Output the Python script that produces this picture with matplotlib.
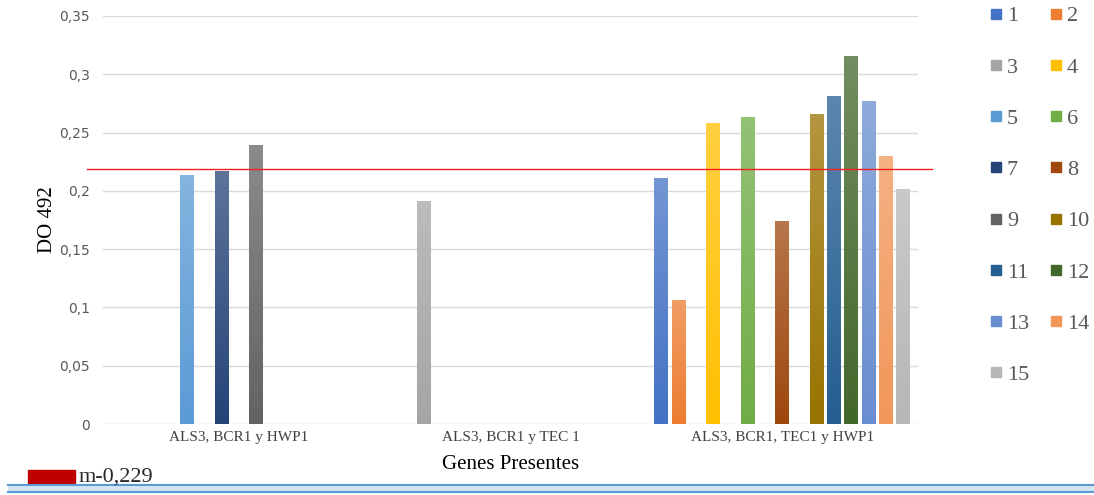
import numpy as np
import matplotlib
matplotlib.use("Agg")
import matplotlib.pyplot as plt
from matplotlib.colors import LinearSegmentedColormap, to_rgb
from matplotlib.lines import Line2D
from matplotlib.patches import Rectangle

# data (None = no bar in that group)
categories = ["ALS3, BCR1 y HWP1", "ALS3, BCR1 y TEC 1", "ALS3, BCR1, TEC1 y HWP1"]
series_names = [str(i) for i in range(1, 16)]
values = {
    "1": [None, None, 0.211],
    "2": [None, None, 0.106],
    "3": [None, 0.191, None],
    "4": [None, None, 0.258],
    "5": [0.214, None, None],
    "6": [None, None, 0.263],
    "7": [0.217, None, None],
    "8": [None, None, 0.174],
    "9": [0.239, None, None],
    "10": [None, None, 0.266],
    "11": [None, None, 0.281],
    "12": [None, None, 0.316],
    "13": [None, None, 0.277],
    "14": [None, None, 0.230],
    "15": [None, None, 0.202],
}
threshold = 0.219
threshold_label = "m-0,229"
yticks = [0, 0.05, 0.1, 0.15, 0.2, 0.25, 0.3, 0.35]

colors = ["#4472C4", "#ED7D31", "#A5A5A5", "#FFC000", "#5B9BD5", "#70AD47",
          "#264478", "#9E480E", "#636363", "#997300", "#255E91", "#43682B",
          "#698ED0", "#F1975A", "#B7B7B7"]

serif = "Liberation Serif"
fig = plt.figure(figsize=(10.94, 4.95), dpi=100)
ax = fig.add_axes([0.0942, 0.1434, 0.745, 0.8243])

slot = 0.0636
bw = 0.0515
x = np.arange(len(categories))


def lighter(c, f):
    r = np.array(to_rgb(c))
    return tuple(r + (1 - r) * f)


for i, name in enumerate(series_names):
    vals = [np.nan if v is None else v for v in values[name]]
    bars = ax.bar(x + (i - 7) * slot, vals, bw, color=colors[i], zorder=2)
    cmap = LinearSegmentedColormap.from_list("g", [colors[i], lighter(colors[i], 0.25)])
    for b in bars:
        h = b.get_height()
        if not np.isfinite(h) or h == 0:
            continue
        grad = np.linspace(1, 0, 64).reshape(-1, 1)
        im = ax.imshow(grad, cmap=cmap, aspect="auto", zorder=3,
                       extent=[b.get_x(), b.get_x() + b.get_width(), 0, h])
        im.set_clip_path(b)

ax.set_xlim(-0.5, 2.5)
ax.set_ylim(0, 0.35)
ax.set_yticks(yticks)
ax.set_yticklabels([("%g" % t).replace(".", ",") for t in yticks],
                   fontsize=10, color="#595959")
ax.set_xticks(x)
ax.set_xticklabels(categories, fontsize=11, family=serif, color="#404040")
ax.tick_params(length=0, pad=9.5)
ax.tick_params(axis="x", pad=5)
ax.grid(axis="y", color="#D9D9D9", lw=1, zorder=0)
for s in ax.spines.values():
    s.set_visible(False)

ax.axhline(threshold, xmin=-0.02, xmax=1.017, color="#F02020", lw=1,
           clip_on=False, zorder=4)

ax.set_xlabel("Genes Presentes", family=serif, fontsize=15, labelpad=8)
ax.set_ylabel("DO 492", family=serif, fontsize=15)
ax.yaxis.set_label_coords(-0.056, 0.5)

order = list(range(0, 15, 2)) + list(range(1, 15, 2))
handles = [Line2D([], [], marker="s", ls="", color=colors[k], markersize=7)
           for k in order]
leg = fig.legend(handles, [series_names[k] for k in order], ncol=2,
                 loc="upper left", bbox_to_anchor=(0.904, 0.988), frameon=False,
                 prop={"family": serif, "size": 16}, labelspacing=1.38,
                 handlelength=0.6, handletextpad=0.2, columnspacing=0.9,
                 borderpad=0, borderaxespad=0)
for t in leg.get_texts():
    t.set_color("#595959")

# threshold legend and bottom band
fig.patches.append(Rectangle((28 / 1094, 1 - 484 / 495), 47 / 1094, 14 / 495,
                             transform=fig.transFigure, color="#C00000"))
fig.text(79 / 1094, 1 - 477 / 495, threshold_label, family=serif, fontsize=16,
         va="center", color="#262626")
fig.add_artist(Rectangle((8 / 1094, 1 - 492 / 495), 1, 7 / 495,
                         transform=fig.transFigure, facecolor="#D6E5F4",
                         edgecolor="none", zorder=1))
for yy in (485, 492):
    fig.add_artist(Line2D([8 / 1094, 1], [1 - yy / 495] * 2, color="#5B9BD5",
                          lw=1.5, transform=fig.transFigure, zorder=2))

fig.savefig("out.png", dpi=100)
